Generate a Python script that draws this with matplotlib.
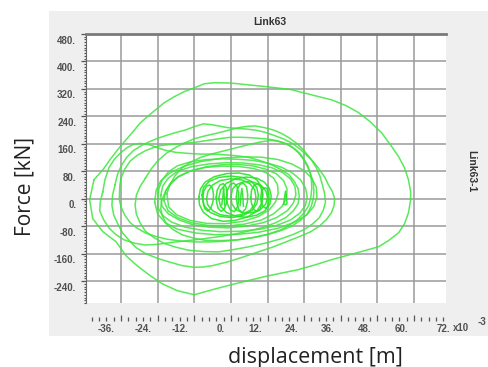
import numpy as np
import matplotlib.pyplot as plt
import matplotlib.transforms as mtransforms
from matplotlib.patches import Rectangle
from matplotlib.ticker import MultipleLocator, FuncFormatter

plt.rcParams['font.family'] = ['Liberation Sans', 'DejaVu Sans']

# ---- link hysteresis loops: displacement (x10^-3 m), force (kN) ----
loop_outer = [(-44.9, 55), (-41.9, 85), (-39.6, 114), (-36.3, 152), (-32.4, 192), (-29.7, 221),
              (-25.8, 251), (-21.8, 280), (-18.6, 297), (-15.3, 312), (-12.0, 323), (-8.7, 335),
              (-5.4, 338), (0, 337), (5.5, 332), (12.1, 326), (19.7, 318), (26.3, 303), (33.0, 288),
              (37.8, 271), (41.8, 251), (45.7, 224), (49.4, 192), (52.3, 157), (55.0, 122),
              (56.9, 90), (58.2, 55), (58.9, 20), (58.9, -3), (58.2, -41), (56.9, -73), (55.0, -99),
              (51.7, -122), (48.4, -140), (42.8, -154), (37.8, -166), (32.9, -178), (27.9, -192),
              (22.0, -207), (17.0, -216), (11.1, -227), (5.5, -239), (0, -251), (-6.0, -265),
              (-12.0, -280), (-17.6, -268), (-22.5, -248), (-26.5, -224), (-30.8, -195),
              (-34.4, -166), (-37.7, -125), (-42.0, -96), (-45.3, -58), (-46.3, -3), (-44.9, 55)]
loop_2 = [(-38, 40), (-37.2, 70), (-36, 95), (-34.2, 120), (-32, 140), (-29.5, 154), (-27, 165),
          (-24, 176), (-21, 185), (-18, 193), (-15, 200), (-12, 210), (-9, 218), (-6.5, 216),
          (-4, 212), (-1, 207), (2, 205), (5, 203), (8, 200), (11, 194), (14, 185), (17, 175),
          (20, 162), (22.6, 145), (25, 125), (27.2, 106), (29, 85), (30.8, 62), (32, 40), (33.3, 20),
          (34, 0), (33.8, -20), (33, -40), (31.4, -60), (29, -80), (26, -97), (22, -112), (18, -126),
          (14, -140), (9, -155), (4, -170), (-1, -184), (-6, -195), (-9, -199), (-12, -200),
          (-16, -195), (-20, -185), (-24, -174), (-28, -160), (-31, -143), (-33, -125), (-35.5, -100),
          (-37, -75), (-38.4, -48), (-39, -20), (-38.8, 10), (-38, 40)]
loop_3 = [(-28, 60), (-26.2, 86), (-24, 110), (-21.2, 132), (-18, 150), (-15, 163), (-12, 175),
          (-8.5, 183), (-5, 190), (-1, 199), (3, 208), (5.5, 211), (8, 212), (11, 207), (14, 200),
          (16.6, 190), (19, 178), (21.6, 161), (24, 140), (26.2, 116), (28, 90), (29.2, 65), (30, 40),
          (30.7, 15), (31, -10), (30.3, -33), (29, -55), (26.7, -74), (24, -90), (20.2, -105),
          (16, -118), (11, -130), (6, -140), (1, -148), (-4, -155), (-9, -154), (-14, -150),
          (-18.2, -141), (-22, -130), (-25.3, -113), (-28, -95), (-29.8, -70), (-31, -45),
          (-31.4, -18), (-31, 10), (-29.8, 35), (-28, 60)]
loop_4 = [(-42, 20), (-41.3, 55), (-40, 90), (-38.2, 115), (-36, 135), (-34, 149), (-32, 158),
          (-30, 161), (-28, 160), (-26, 155), (-24, 148), (-21, 140), (-18, 135), (-14, 132),
          (-10, 130), (-6, 130), (-2, 128), (2, 125), (6, 120), (9.6, 111), (13, 100), (16.2, 86),
          (19, 70), (20.8, 50), (22, 30), (22.4, 8), (22, -15), (20.4, -36), (18, -55), (14.4, -71),
          (10, -85), (5, -96), (0, -105), (-5, -112), (-10, -118), (-15, -123), (-20, -128),
          (-24, -133), (-28, -135), (-31.5, -130), (-35, -120), (-37.8, -104), (-40, -85),
          (-41.8, -60), (-43, -35), (-42.8, -8), (-42, 20)]
loop_5 = [(-20, 40), (-18.4, 66), (-16, 90), (-13.2, 106), (-10, 120), (-6, 131), (-2, 140),
          (2, 149), (6, 158), (9.5, 165), (13, 170), (15.6, 167), (18, 160), (20.2, 149), (22, 135),
          (23.7, 116), (25, 95), (26.2, 70), (27, 45), (27.2, 22), (27, 0), (26.3, -23), (25, -45),
          (22.8, -63), (20, -80), (16.4, -93), (12, -105), (7, -114), (2, -120), (-3, -122),
          (-8, -122), (-12.2, -115), (-16, -105), (-18.8, -91), (-21, -75), (-22.4, -52),
          (-23, -30), (-22.8, -10), (-22, 10), (-21.2, 25), (-20, 40)]
loop_w1 = [(-36, 60), (-34.8, 86), (-33, 110), (-30.6, 127), (-28, 140), (-25.4, 149), (-23, 155),
           (-20, 158), (-17, 160), (-14.5, 162), (-12, 164), (-9, 168), (-6, 172), (-3, 176),
           (0, 179), (3, 179), (6, 178), (9, 176), (12, 174), (14.6, 170), (17, 164), (19.2, 156),
           (21, 145), (22.7, 131), (24, 115), (25.2, 96), (26, 75), (26.4, 52), (26.5, 30),
           (26.2, 5), (25.5, -20), (24, -41), (22, -60), (19.2, -77), (16, -92), (12.2, -103),
           (8, -112), (3, -119), (-2, -124), (-7, -126), (-12, -126), (-16.8, -123), (-21, -118),
           (-24.6, -110), (-28, -100), (-30.7, -86), (-33, -70), (-34.8, -48), (-36, -25),
           (-36.6, -2), (-36.5, 20), (-36.4, 40), (-36, 60)]
loop_d1 = [(-24, 0), (-23.6, 30), (-22.5, 55), (-20.5, 78), (-17.5, 96), (-13, 108), (-8, 114),
           (-3, 116), (2, 115), (7, 112), (12, 104), (16.5, 92), (20, 76), (22.8, 55), (24.5, 30),
           (25, 5), (24.4, -20), (22.6, -42), (19.5, -62), (15, -78), (9.5, -89), (3, -95),
           (-3.5, -96), (-9.5, -92), (-15, -83), (-19.5, -68), (-22.5, -48), (-24, -25), (-24, 0)]
loop_d2 = [(-23, 10), (-22.3, 38), (-20.5, 60), (-17.5, 80), (-13, 93), (-7.5, 101), (-1.5, 105),
           (4, 104), (9, 99), (13.5, 90), (17, 76), (19.6, 57), (21, 35), (21.3, 12), (20.5, -12),
           (18.5, -35), (15, -55), (10.5, -70), (5, -80), (-1, -85), (-7, -83), (-12.5, -76),
           (-17, -62), (-20.5, -44), (-22.6, -22), (-23, 10)]
loop_d3 = [(-22, -5), (-21.4, 22), (-19.8, 46), (-17, 66), (-13, 82), (-8, 93), (-3, 99), (2, 100),
           (7, 96), (11.5, 86), (15, 72), (17.3, 52), (18.4, 28), (18.2, 3), (16.8, -22), (14, -44),
           (10, -62), (4.5, -74), (-1.5, -80), (-7.5, -78), (-13, -70), (-17.5, -55), (-20.6, -35),
           (-22, -5)]
loop_d4 = [(-21, 15), (-20, 40), (-17.5, 62), (-13.5, 80), (-8.5, 91), (-3, 95), (2.5, 94),
           (7.5, 88), (11.5, 76), (14, 60), (15.3, 40), (15.5, 15), (14.6, -10), (12.5, -33),
           (9, -52), (4, -66), (-2, -73), (-8, -72), (-13.5, -63), (-17.8, -47), (-20.4, -24),
           (-21, 15)]
loop_d5 = [(-25, -10), (-24.5, 25), (-23, 52), (-20, 75), (-15.5, 94), (-10, 108), (-3, 118),
           (4, 122), (10, 121), (15.5, 114), (20, 101), (23.8, 83), (26.5, 60), (28, 33), (28.2, 5),
           (27.2, -22), (25, -46), (21, -68), (15.5, -86), (9, -98), (2, -104), (-5, -105),
           (-11.5, -100), (-17.5, -89), (-21.5, -70), (-24, -45), (-25, -10)]
loop_e1 = [(-10.5, 5), (-10, 28), (-8.5, 48), (-5.5, 64), (-1.5, 73), (2.5, 75), (6, 69), (8.5, 55),
           (10, 35), (10.5, 10), (10, -15), (8.5, -36), (5.5, -53), (1.5, -63), (-2.5, -66),
           (-6.3, -58), (-9, -40), (-10.3, -18), (-10.5, 5)]
loop_e2 = [(-9.5, 10), (-9, 32), (-7.2, 50), (-4, 62), (0, 66), (3.8, 62), (6.8, 50), (8.5, 32),
           (9, 10), (8.5, -14), (7, -34), (4.2, -48), (0.5, -55), (-3.5, -52), (-6.8, -40),
           (-8.8, -20), (-9.5, 10)]
loop_e3 = [(-8, 0), (-7.5, 22), (-6, 40), (-3.5, 53), (0, 58), (3.5, 55), (6.2, 44), (7.8, 26),
           (8.2, 5), (7.8, -16), (6.3, -34), (3.6, -46), (0, -51), (-3.4, -47), (-6, -35),
           (-7.6, -18), (-8, 0)]
loop_e4 = [(-4, 0), (-3.4, 25), (-1.5, 45), (1.5, 58), (5, 63), (8.5, 60), (11, 48), (12.6, 30),
           (13.2, 8), (12.8, -15), (11.2, -35), (8.5, -48), (5, -54), (1.5, -51), (-1.5, -40),
           (-3.4, -22), (-4, 0)]
loop_e5 = [(0, 5), (0.5, 28), (2, 42), (4.5, 50), (7.5, 48), (10, 38), (11.5, 22), (12, 3),
           (11.4, -16), (9.6, -32), (7, -41), (4, -42), (1.6, -32), (0.3, -15), (0, 5)]
loop_f1 = [(-9.2, 3), (-8.9, 22), (-8, 36), (-7, 40), (-6.1, 32), (-5.7, 12), (-5.9, -10),
           (-6.6, -28), (-7.6, -36), (-8.6, -28), (-9.1, -12), (-9.2, 3)]
loop_f2 = [(-4.8, 5), (-4.5, 25), (-3.6, 40), (-2.5, 44), (-1.6, 34), (-1.2, 12), (-1.4, -12),
           (-2.2, -30), (-3.2, -37), (-4.2, -28), (-4.7, -10), (-4.8, 5)]
loop_f3 = [(-1.5, 2), (-1.2, 24), (-0.3, 40), (0.8, 46), (1.9, 38), (2.5, 18), (2.6, -4),
           (2.1, -25), (1.1, -38), (-0.2, -33), (-1.1, -16), (-1.5, 2)]
loop_f4 = [(1.8, 6), (2.1, 28), (3, 42), (4.1, 45), (5.1, 35), (5.5, 12), (5.4, -10), (4.8, -30),
           (3.7, -40), (2.6, -32), (2, -14), (1.8, 6)]
loop_f5 = [(6.5, 4), (6.8, 26), (7.7, 40), (8.8, 44), (9.8, 34), (10.3, 12), (10.2, -12),
           (9.6, -30), (8.5, -38), (7.4, -30), (6.7, -12), (6.5, 4)]
loop_f6 = [(9.8, 2), (10, 20), (10.8, 32), (11.8, 30), (12.4, 15), (12.5, -3), (12.2, -20),
           (11.4, -28), (10.5, -22), (9.9, -10), (9.8, 2)]
spike_1 = [(-3, -18), (-2.6, 10), (-2.4, 32), (-2.2, 8), (-2, -20)]
spike_2 = [(3, -20), (3.3, 12), (3.6, 30), (3.9, 5), (4.1, -22)]
spike_3 = [(17.3, -17), (17.6, 5), (17.9, 22), (18.2, 3), (18.4, -15), (17.8, -18)]

outer_loops = [loop_outer, loop_2, loop_3, loop_4, loop_5, loop_w1,
               loop_d1, loop_d2, loop_d3, loop_d4, loop_d5]
inner_loops = [loop_e1, loop_e2, loop_e3, loop_e4, loop_e5,
               loop_f1, loop_f2, loop_f3, loop_f4, loop_f5, loop_f6,
               spike_1, spike_2, spike_3]

x_major = 12
y_major = 80

fig = plt.figure(figsize=(4.89, 3.67), dpi=100)
fig.add_artist(Rectangle((49 / 489, 1 - 336 / 367), 440 / 489, 325 / 367,
                         transform=fig.transFigure, facecolor='#efefef', edgecolor='none', zorder=-5))
ax = fig.add_axes([86 / 489, 1 - 303 / 367, 360 / 489, 269 / 367])
ax.set_facecolor('white')

for lp in outer_loops:
    ax.plot([p[0] for p in lp], [p[1] for p in lp], color='#3ce63c', lw=1.1, alpha=0.85,
            solid_joinstyle='round')
for lp in inner_loops:
    ax.plot([p[0] for p in lp], [p[1] for p in lp], color='#22e622', lw=1.1, alpha=0.9,
            solid_joinstyle='round')

ax.set_xlim(-47.5, 70.5)
ax.set_ylim(-304, 480)
ax.xaxis.set_major_locator(MultipleLocator(x_major))
ax.xaxis.set_minor_locator(MultipleLocator(x_major / 5))
ax.yaxis.set_major_locator(MultipleLocator(y_major))
ax.yaxis.set_minor_locator(MultipleLocator(y_major / 10))
fmt = FuncFormatter(lambda v, pos: f"{v:g}.")
ax.xaxis.set_major_formatter(fmt)
ax.yaxis.set_major_formatter(fmt)
ax.grid(True, which='major', color='#9a9a9a', lw=1.1)
ax.set_axisbelow(True)

ax.spines['right'].set_visible(False)
ax.spines['top'].set_color('#7a7a7a')
ax.spines['top'].set_linewidth(2)
ax.spines['left'].set_color('#666666')
ax.spines['bottom'].set_position(('outward', 13))
ax.spines['bottom'].set_color('none')

tick_kw = dict(colors='#555555', labelcolor='#505050', labelsize=7)
ax.tick_params(axis='x', which='major', direction='in', length=4.5, width=0.9, pad=2, **tick_kw)
ax.tick_params(axis='x', which='minor', direction='in', length=2.7, width=0.9, colors='#555555')
ax.tick_params(axis='y', which='major', direction='out', length=3.5, width=0.9, pad=3.5, **tick_kw)
ax.tick_params(axis='y', which='minor', direction='out', length=1.8, width=0.8, colors='#555555')

dx = mtransforms.ScaledTranslation(-6 / 100, 0, fig.dpi_scale_trans)
dy = mtransforms.ScaledTranslation(0, -5.5 / 100, fig.dpi_scale_trans)
for lab in ax.get_xticklabels():
    lab.set_horizontalalignment('right')
    lab.set_transform(lab.get_transform() + dx)
    lab.set_fontweight('bold')
for lab in ax.get_yticklabels():
    lab.set_transform(lab.get_transform() + dy)
    lab.set_fontweight('bold')

# last label sits beyond the plotted range
last = ax.get_xticklabels()[0]
ax.text(72, 0, "72.", transform=mtransforms.blended_transform_factory(ax.transData, last.get_transform()),
        ha='right', va='top', fontsize=7, fontweight='bold', color='#505050')

fig.text(270 / 489, 1 - 22 / 367, 'Link63', ha='center', va='center', fontsize=7.5,
         fontweight='bold', color='#333333')
fig.text(471.5 / 489, 1 - 171 / 367, 'Link63-1', ha='center', va='center', rotation=-90,
         fontsize=7.5, fontweight='bold', color='#333333')
fig.text(453 / 489, 1 - 328 / 367, 'x10', ha='left', va='center', fontsize=7,
         fontweight='bold', color='#505050')
fig.text(478 / 489, 1 - 322 / 367, '-3', ha='left', va='center', fontsize=7,
         fontweight='bold', color='#505050')

fig.text(25 / 489, 1 - 187 / 367, 'Force [kN]', ha='center', va='center', rotation=90,
         fontsize=15, family='Open Sans', color='#222222')
fig.text(315 / 489, 1 - 357 / 367, 'displacement [m]', ha='center', va='center',
         fontsize=15.5, family='Open Sans', color='#222222')

fig.savefig('out.png', dpi=100)
